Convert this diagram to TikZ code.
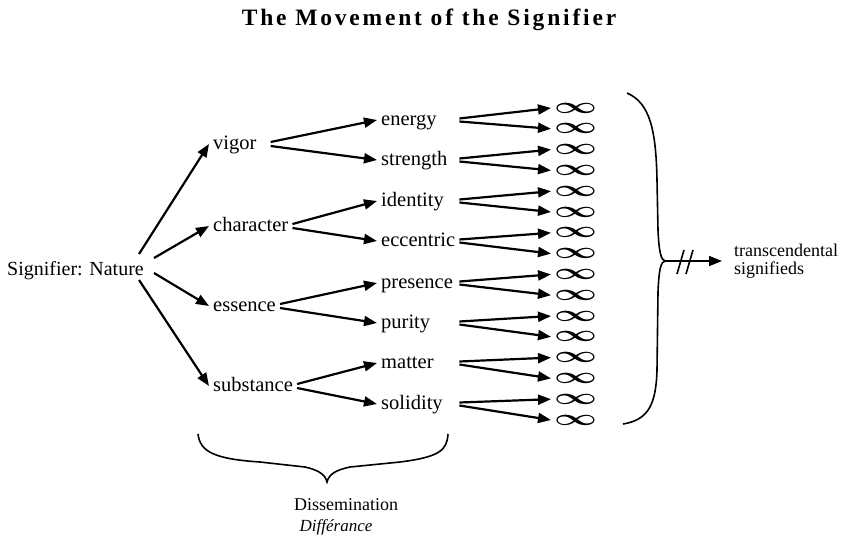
\documentclass[tikz,border=0pt]{standalone}
\usepackage{fontspec}
\setmainfont{Liberation Serif}
\newfontfamily\titlefont[LetterSpace=12]{Liberation Serif}
\usetikzlibrary{arrows.meta}

\begin{document}
\begin{tikzpicture}[x=1pt, y=-1pt,
  word/.style={anchor=base west, inner sep=4pt, text height=14pt, text depth=4pt,
               font=\fontsize{20.5}{24}\selectfont},
  term/.style={word, text width=74pt, align=left},
  infsym/.style={anchor=west, inner xsep=3pt, inner ysep=0pt,
                 font=\fontsize{20}{24}\selectfont\boldmath},
  arrow/.style={-{Triangle[length=13pt,width=10pt]}, line width=2.2pt},
  brace/.style={line width=1.6pt}]

  \useasboundingbox (0,0) rectangle (849,536);

  \node[anchor=base, font=\titlefont\bfseries\fontsize{23.5}{27}\selectfont] (title) at (429,25)
    {The Movement of the Signifier};

  % signifier and its first branching
  \node[word, font=\fontsize{20}{24}\selectfont] (nature) at (3,275) {Signifier: Nature};
  \node[word] (vigor)     at (209,149) {vigor};
  \node[word] (character) at (209,231) {character};
  \node[word] (essence)   at (209,311) {essence};
  \node[word] (substance) at (209,391) {substance};

  \node[term] (energy)    at (377,125) {energy};
  \node[term] (strength)  at (377,165) {strength};
  \node[term] (identity)  at (377,206) {identity};
  \node[term] (eccentric) at (377,246) {eccentric};
  \node[term] (presence)  at (377,288) {presence};
  \node[term] (purity)    at (377,328) {purity};
  \node[term] (matter)    at (377,368) {matter};
  \node[term] (solidity)  at (377,409) {solidity};

  \foreach \i in {1,...,16}
    \node[infsym] (inf\i) at (551,{108+20.8*(\i-1)}) {\scalebox{1.8}[1.1]{$\infty$}};

  \draw[arrow] ([xshift=-9pt,yshift=16pt]nature.east) -- (vigor.west);
  \draw[arrow] ([xshift=6pt,yshift=12pt]nature.east) -- (character.west);
  \draw[arrow] ([xshift=6pt,yshift=-3pt]nature.east) -- (essence.west);
  \draw[arrow] ([xshift=-9pt,yshift=-10pt]nature.east) -- (substance.west);

  \draw[arrow] ([xshift=10pt,yshift=2pt]vigor.east) -- (energy.west);
  \draw[arrow] ([xshift=10pt,yshift=-2pt]vigor.east) -- (strength.west);
  \draw[arrow] ([yshift=2pt]character.east) -- (identity.west);
  \draw[arrow] ([yshift=-2pt]character.east) -- (eccentric.west);
  \draw[arrow] ([yshift=2pt]essence.east) -- (presence.west);
  \draw[arrow] ([yshift=-2pt]essence.east) -- (purity.west);
  \draw[arrow] ([yshift=2pt]substance.east) -- (matter.west);
  \draw[arrow] ([yshift=-2pt]substance.east) -- (solidity.west);

  \foreach \w/\a/\b in {energy/1/2, strength/3/4, identity/5/6, eccentric/7/8,
                        presence/9/10, purity/11/12, matter/13/14, solidity/15/16} {
    \draw[arrow] ([yshift=1.5pt]\w.east) -- (inf\a.west);
    \draw[arrow] ([yshift=-1.5pt]\w.east) -- (inf\b.west);
  }

  % right brace and the way out
  \draw[brace] (627,93) .. controls (650,103) and (656,130) .. (657,180) -- (658,230)
    .. controls (659,252) and (661,260) .. (665,261)
    .. controls (661,262) and (659,268) .. (658,292) -- (657,370)
    .. controls (656,405) and (648,420) .. (623,424);
  \coordinate (bracetip) at (665,261);
  \node[anchor=west, align=left, inner xsep=12pt, inner ysep=2pt,
        font=\fontsize{18}{17.5}\selectfont] (signifieds) at (722,261)
    {transcendental\\signifieds};
  \draw[arrow, line width=1.6pt] (bracetip) -- (signifieds.west);
  \draw[brace] (677,274) -- (684,250);
  \draw[brace] (686,274) -- (693,250);

  % bottom brace
  \draw[brace] (198,434) .. controls (200,452) and (215,459) .. (260,462) -- (305,467)
    .. controls (318,470) and (325,474) .. (327,482)
    .. controls (329,474) and (336,470) .. (350,467) -- (400,462)
    .. controls (440,457) and (447,450) .. (448,434);
  \node[anchor=base, font=\fontsize{18}{20}\selectfont] (dissem) at (346,510) {Dissemination};
  \node[anchor=base, font=\fontsize{17}{20}\selectfont\itshape] (differance) at (336,531) {Différance};
\end{tikzpicture}
\end{document}
